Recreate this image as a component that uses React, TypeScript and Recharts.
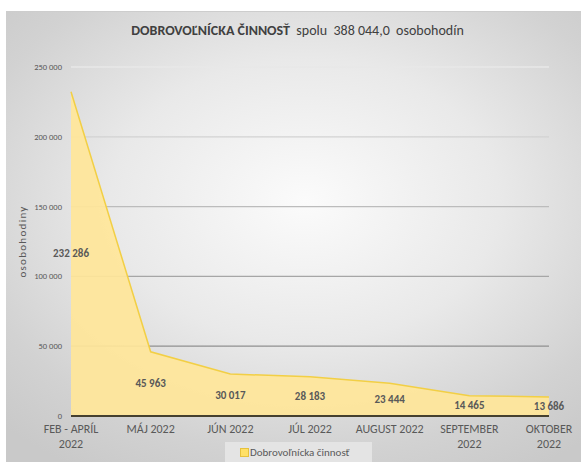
import { AreaChart, Area, XAxis, YAxis, CartesianGrid, LabelList } from "recharts";

const months = [
  "FEB - APRÍL 2022",
  "MÁJ 2022",
  "JÚN 2022",
  "JÚL 2022",
  "AUGUST 2022",
  "SEPTEMBER 2022",
  "OKTOBER 2022",
];
const hours = [232286, 45963, 30017, 28183, 23444, 14465, 13686];
const yTicks = [0, 50000, 100000, 150000, 200000, 250000];

const seriesName = "Dobrovoľnícka činnosť";
const titleBold = "DOBROVOĽNÍCKA ČINNOSŤ";
const titleRest = "spolu  388 044,0  osobohodín";
const yLabel = "osobohodiny";

const data = months.map((m, i) => ({ month: m, value: hours[i] }));

const FONT = "Carlito, Lato, 'Liberation Sans', sans-serif";
const TEXT = "#595959";
const CHART_W = 575;
const CHART_H = 450;
const X_AXIS_H = 46;
const PLOT_BOTTOM = CHART_H - X_AXIS_H;

const fmt = (n: number) => String(n).replace(/\B(?=(\d{3})+(?!\d))/g, " ");

function MonthTick(props: any) {
  const { x, y, payload } = props;
  const label: string = payload.value;
  let lines = [label];
  if (label.length > 11) {
    const cut = label.lastIndexOf(" ");
    lines = [label.slice(0, cut), label.slice(cut + 1)];
  }
  return (
    <text x={x} y={y + 7} textAnchor="middle" fill={TEXT} fontSize={12} fontFamily={FONT}>
      {lines.map((l, i) => (
        <tspan key={i} x={x} dy={i === 0 ? 2 : 15}>
          {l}
        </tspan>
      ))}
    </text>
  );
}

function MidLabel(props: any) {
  const { x, y, value } = props;
  return (
    <text
      x={x}
      y={(y + PLOT_BOTTOM) / 2}
      textAnchor="middle"
      dominantBaseline="central"
      fill={TEXT}
      fontSize={11}
      fontWeight="bold"
      fontFamily={FONT}
    >
      {fmt(value)}
    </text>
  );
}

export default function App() {
  return (
    <div
      style={{
        position: "absolute",
        left: 0,
        top: 0,
        width: 581,
        height: 463,
        background: "#fff",
        fontFamily: FONT,
      }}
    >
      <div
        style={{
          position: "absolute",
          left: 6,
          top: 11,
          width: CHART_W,
          height: CHART_H,
          borderTop: "1px solid #cdcdcd",
          background:
            "radial-gradient(ellipse 75% 70% at 52% 42%, #fbfbfb 0%, #e9e9e9 45%, #d2d2d2 80%, #c9c9c9 100%)",
        }}
      >
        <div
          style={{
            position: "absolute",
            top: 10,
            left: 0,
            width: CHART_W,
            paddingLeft: 8,
            boxSizing: "border-box",
            textAlign: "center",
            fontSize: 14,
            color: "#404040",
            whiteSpace: "pre",
          }}
        >
          <span style={{ fontWeight: "bold" }}>{titleBold}</span>
          {"  " + titleRest}
        </div>

        <AreaChart
          width={CHART_W}
          height={CHART_H}
          data={data}
          margin={{ top: 55, right: 32, left: 0, bottom: 0 }}
        >
          <defs>
            <linearGradient id="gridGrad" gradientUnits="userSpaceOnUse" x1="0" y1="55" x2="0" y2={PLOT_BOTTOM}>
              <stop offset="0%" stopColor="#e8e8e8" />
              <stop offset="100%" stopColor="#7a7a7a" />
            </linearGradient>
          </defs>
          <CartesianGrid vertical={false} stroke="url(#gridGrad)" strokeWidth={1.3} />
          <XAxis
            dataKey="month"
            height={X_AXIS_H}
            tickLine={false}
            axisLine={{ stroke: "#45402f", strokeWidth: 2.2 }}
            tick={<MonthTick />}
            interval={0}
          />
          <YAxis
            width={65}
            domain={[0, 250000]}
            ticks={yTicks}
            tickLine={false}
            axisLine={false}
            tickMargin={3}
            tick={{ fill: TEXT, fontSize: 8.5, fontFamily: FONT }}
            tickFormatter={(v: number) => fmt(v)}
            label={{
              content: (p: any) => {
                const vb = p.viewBox || {};
                const cy = vb.y + vb.height / 2;
                return (
                  <text
                    x={16}
                    y={cy}
                    transform={`rotate(-90 16 ${cy})`}
                    textAnchor="middle"
                    dominantBaseline="central"
                    fill={TEXT}
                    fontSize={11}
                    letterSpacing={1.3}
                    fontFamily={FONT}
                  >
                    {yLabel}
                  </text>
                );
              },
            }}
          />
          <Area
            type="linear"
            dataKey="value"
            name={seriesName}
            stroke="#f2cf45"
            strokeWidth={1.5}
            fill="#ffe699"
            fillOpacity={0.92}
            isAnimationActive={false}
          >
            <LabelList dataKey="value" content={<MidLabel />} />
          </Area>
        </AreaChart>

        <div
          style={{
            position: "absolute",
            left: 219,
            top: 430,
            width: 147,
            height: 20,
            background: "#e4e4e4",
            display: "flex",
            alignItems: "center",
            fontSize: 11,
            color: TEXT,
          }}
        >
          <span
            style={{
              display: "inline-block",
              width: 7,
              height: 7,
              marginLeft: 15,
              marginRight: 1,
              background: "#ffe066",
              border: "1px solid #e6c13c",
            }}
          />
          {seriesName}
        </div>
      </div>
    </div>
  );
}
